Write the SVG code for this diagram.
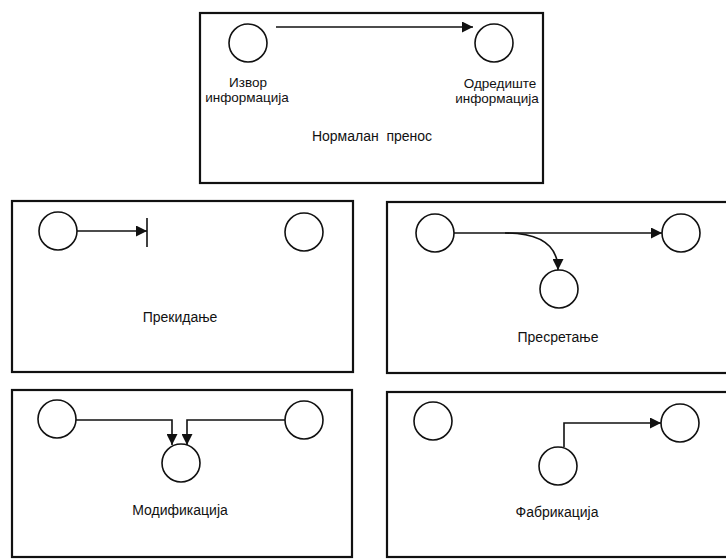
<svg xmlns="http://www.w3.org/2000/svg" width="726" height="559" viewBox="0 0 726 559">
<defs>
<marker id="ah" viewBox="0 0 10 10" refX="10" refY="5" markerWidth="11" markerHeight="11" markerUnits="userSpaceOnUse" orient="auto">
<path d="M0,0 L10,5 L0,10 Z" fill="#111"/>
</marker>
<style>
.box{fill:none;stroke:#111;stroke-width:2.2}
.nd{fill:#fff;stroke:#111;stroke-width:1.6}
.cn{fill:none;stroke:#111;stroke-width:1.6}
.t{font-family:"Liberation Sans",Arial,sans-serif;font-size:14px;fill:#111;text-anchor:middle}
.s{font-size:13.5px}
</style>
</defs>
<rect width="726" height="559" fill="#fff"/>
<g id="frames">
<rect class="box" x="200" y="13" width="343" height="170"/>
<rect class="box" x="12" y="201" width="341" height="171"/>
<rect class="box" x="387" y="202" width="345" height="171"/>
<rect class="box" x="12" y="390" width="340" height="167"/>
<rect class="box" x="387" y="392" width="345" height="165"/>
</g>
<g id="normal-src"><circle class="nd" cx="248" cy="43" r="19"/><text class="t s" x="248" y="87">Извор</text><text class="t s" x="247" y="102">информација</text></g>
<g id="normal-dst"><circle class="nd" cx="494" cy="43" r="19"/><text class="t s" x="500" y="88">Одредиште</text><text class="t s" x="497" y="103">информација</text></g>
<g id="normal-label"><text class="t" x="372" y="141" xml:space="preserve">Нормалан  пренос</text></g>
<g id="int-src"><circle class="nd" cx="58" cy="231" r="19"/></g>
<g id="int-dst"><circle class="nd" cx="304" cy="232" r="19"/></g>
<g id="int-label"><text class="t" x="180" y="322">Прекидање</text></g>
<g id="icp-src"><circle class="nd" cx="435" cy="233" r="19"/></g>
<g id="icp-dst"><circle class="nd" cx="681" cy="233" r="19"/></g>
<g id="icp-mid"><circle class="nd" cx="559" cy="289" r="19"/></g>
<g id="icp-label"><text class="t" x="558" y="342">Пресретање</text></g>
<g id="mod-src"><circle class="nd" cx="57" cy="419" r="19"/></g>
<g id="mod-dst"><circle class="nd" cx="304" cy="420" r="19"/></g>
<g id="mod-mid"><circle class="nd" cx="181" cy="463" r="19"/></g>
<g id="mod-label"><text class="t" x="180" y="515">Модификација</text></g>
<g id="fab-src"><circle class="nd" cx="433" cy="421" r="19"/></g>
<g id="fab-dst"><circle class="nd" cx="680" cy="423" r="19"/></g>
<g id="fab-mid"><circle class="nd" cx="558" cy="466" r="19"/></g>
<g id="fab-label"><text class="t" x="557" y="517">Фабрикација</text></g>
<g id="connectors">
<path class="cn" d="M276,27 H473" marker-end="url(#ah)"/>
<path class="cn" d="M77,231 H147" marker-end="url(#ah)"/>
<path class="cn" d="M147,218 V247" stroke-width="2.2"/>
<path class="cn" d="M454,233 H662" marker-end="url(#ah)"/>
<path class="cn" d="M505,233 Q558,233 558,270" marker-end="url(#ah)"/>
<path class="cn" d="M76,420 H172 V445" marker-end="url(#ah)"/>
<path class="cn" d="M285,420 H187 V445" marker-end="url(#ah)"/>
<path class="cn" d="M564,447 V423 H661" marker-end="url(#ah)"/>
</g>
</svg>
